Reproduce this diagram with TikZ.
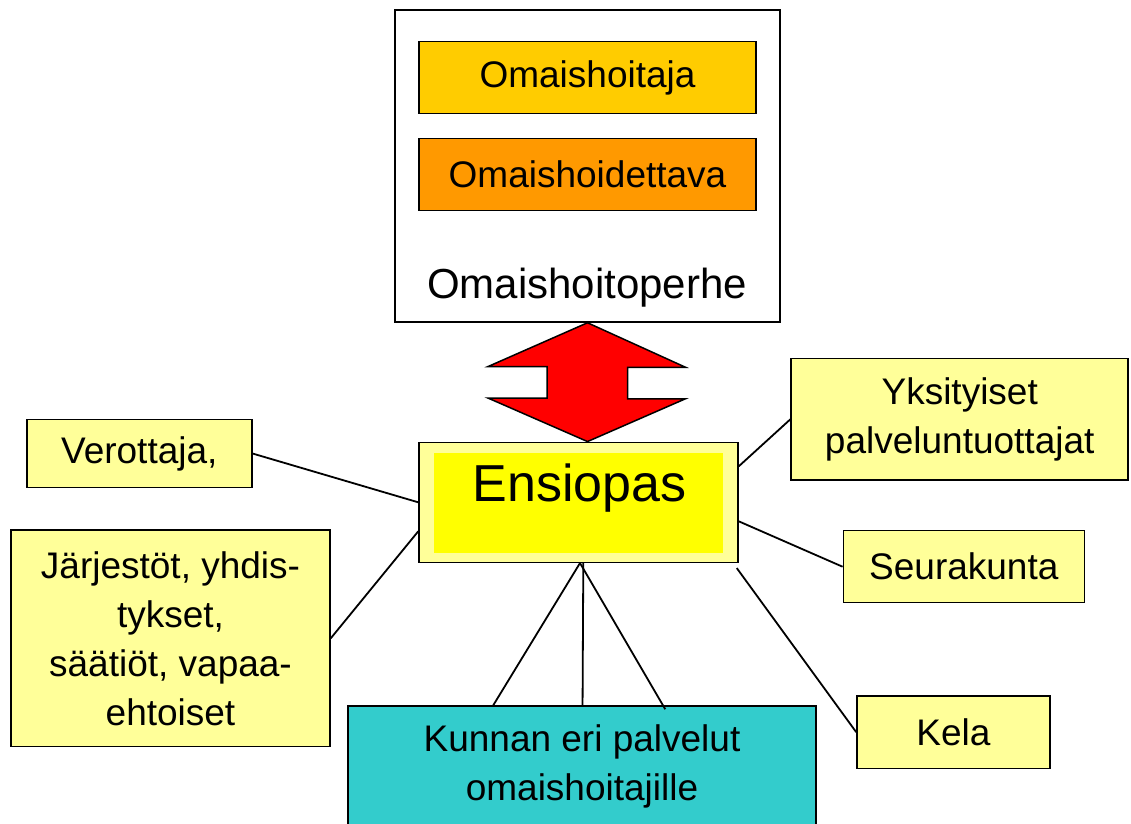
\documentclass[tikz,border=0pt]{standalone}
\usepackage{fontspec}
\setmainfont{Liberation Sans}
\usetikzlibrary{calc}
\definecolor{carerfill}{HTML}{FFCC00}
\definecolor{caredfill}{HTML}{FF9900}
\definecolor{paleyellow}{HTML}{FFFF99}
\definecolor{brightyellow}{HTML}{FFFF00}
\definecolor{tealfill}{HTML}{33CCCC}
\definecolor{arrowred}{HTML}{FF0000}
\begin{document}
\begin{tikzpicture}[x=1pt,y=1pt,
  box/.style={draw=black, line width=1.5pt, inner sep=0pt, align=center,
              font=\fontsize{37}{49}\selectfont},
  sidebox/.style={box, fill=paleyellow},
  link/.style={draw=black, line width=1.8pt}]
\useasboundingbox (0,0) rectangle (1131,-823);
\clip (0,0) rectangle (1131,-823);

% family box with its two members
\node[box, fill=white, minimum width=385pt, minimum height=312pt] (perhe) at (587.5,-166) {};
\node[box, fill=carerfill, minimum width=337pt, minimum height=72pt] (hoitaja) at (587.5,-77.5) {Omaishoitaja};
\node[box, fill=caredfill, minimum width=337pt, minimum height=72pt] (hoidettava) at (587.5,-174.7) {Omaishoidettava};
\node[anchor=base, font=\fontsize{42}{50}\selectfont] (perheteksti) at (587,-298.3) {Omaishoitoperhe};

% central guide
\node[box, fill=paleyellow, minimum width=319pt, minimum height=120pt] (ens) at (578.5,-502.3) {};
\fill[brightyellow] ($(ens.north west)+(16,-11)$) rectangle ($(ens.south east)+(-16,10)$);
\node[anchor=base, font=\fontsize{52}{60}\selectfont] (ensteksti) at (579.5,-501.7) {Ensiopas};

% double-headed arrow between family and guide
\coordinate (atop) at (perhe.south);
\coordinate (abot) at (perhe.south |- ens.north);
\draw[line width=1.5pt, fill=arrowred, line join=miter]
  (atop) -- ++(98,-44.5) -- ++(-58,0) -- ++(0,-31.5) -- ++(58,0)
  -- (abot) -- ++(-99.5,43.5) -- ++(59,0) -- ++(0,31.5) -- ++(-59,0) -- cycle;

% surrounding actors
\node[sidebox, minimum width=225pt, minimum height=68pt] (verot) at (139.3,-453.5) {Verottaja,};
\node[sidebox, minimum width=319pt, minimum height=216.5pt] (jarj) at (170.5,-638.3)
  {Järjestöt, yhdis-\\tykset,\\säätiöt, vapaa-\\ehtoiset};
\node[sidebox, minimum width=337pt, minimum height=121.7pt] (ykst) at (959.7,-419.2)
  {Yksityiset\\palveluntuottajat};
\node[sidebox, minimum width=241pt, minimum height=72pt] (seur) at (963.8,-566.7) {Seurakunta};
\node[sidebox, minimum width=193pt, minimum height=72.3pt] (kela) at (953.5,-732.2) {Kela};
\node[box, fill=tealfill, minimum width=468pt, minimum height=150pt] (kunta) at (582,-781) {};
\node[anchor=base, align=center, font=\fontsize{37}{48.3}\selectfont] (kuntateksti)
  at (582,-800) {Kunnan eri palvelut\\omaishoitajille};

% connectors
\draw[link] (verot.east) -- (ens.west);
\draw[link] (jarj.east) -- ($(ens.west)+(0,-29)$);
\draw[link] ($(ens.east)+(0,36)$) -- (ykst.west);
\draw[link] ($(ens.east)+(0,-19)$) -- (seur.west);
\draw[link] ($(ens.south east)+(-2,-5)$) -- (kela.west);
\draw[link] ($(ens.south)+(1.5,0)$) -- ($(kunta.north west)+(146,0)$);
\draw[link] ($(ens.south)+(4.8,0)$) -- ($(kunta.north west)+(235.3,0)$);
\draw[link] ($(ens.south)+(1.5,0)$) -- ($(kunta.north west)+(318,-4)$);
\end{tikzpicture}
\end{document}
